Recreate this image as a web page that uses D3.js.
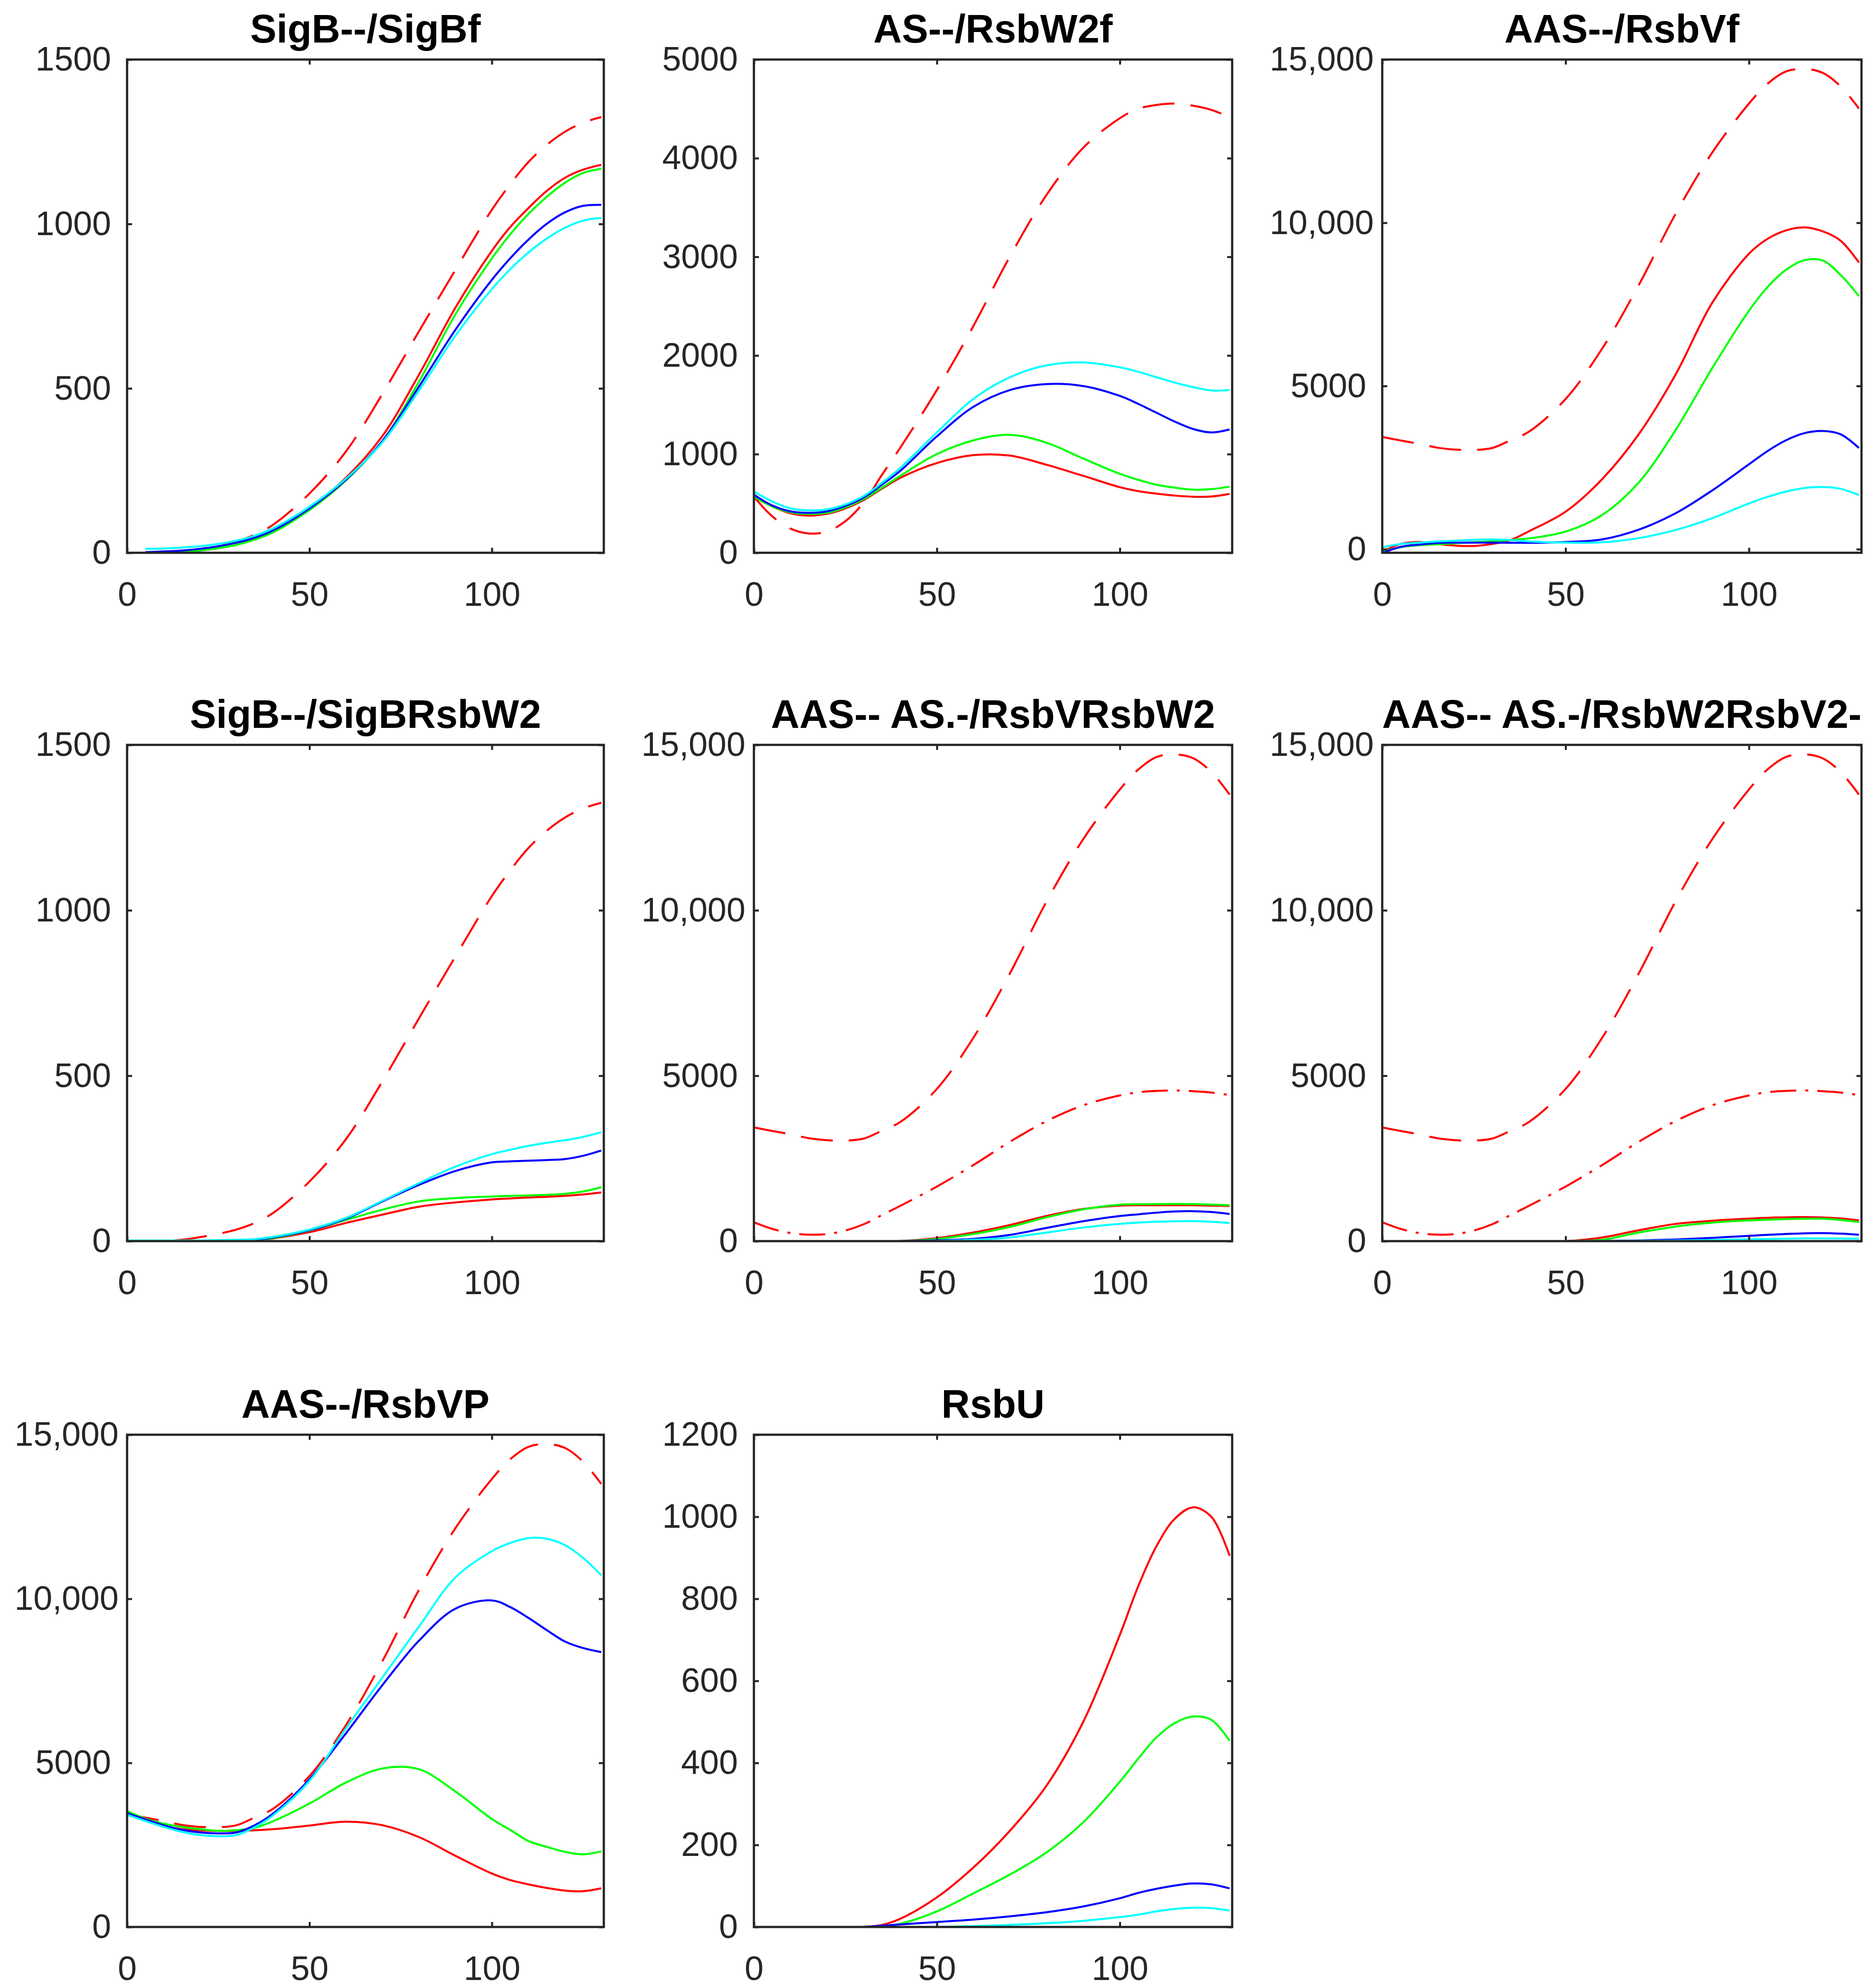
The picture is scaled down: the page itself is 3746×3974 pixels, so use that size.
<!DOCTYPE html>
<html>
<head>
<meta charset="utf-8">
<script src="https://cdn.jsdelivr.net/npm/d3@7"></script>
<style>
body { margin: 0; background: #fff; }
svg { display: block; }
</style>
</head>
<body>
<svg id="fig" width="3746" height="3974"></svg>
<script>
'use strict';

// time points shared by every curve
var time = [0, 5, 10, 15, 20, 25, 30, 35, 40, 50, 60, 70, 80, 90, 100, 105, 110, 115, 120, 125, 130];

// totals (dashed / dash-dot red)
var sigBTotal = [0, 0, 1, 4, 12, 22, 35, 55, 85, 180, 308, 483, 673, 860, 1043, 1120, 1188, 1240, 1280, 1308, 1325];
var asTotal = [568, 370, 245, 195, 215, 320, 510, 790, 1065, 1650, 2300, 3006, 3629, 4106, 4405, 4500, 4540, 4554, 4532, 4490, 4415];
var rsbVTotal = [3437, 3330, 3230, 3110, 3050, 3040, 3100, 3339, 3600, 4600, 6150, 8100, 10270, 12150, 13650, 14250, 14630, 14713, 14600, 14180, 13500];

// SigB--/SigBf
var sigBfRed = [null, 0, 1, 3, 7, 14, 25, 42, 65, 135, 228, 355, 541, 745, 918, 990, 1048, 1100, 1140, 1165, 1180];
var sigBfGreen = [null, 0, 1, 3, 7, 14, 24, 40, 62, 130, 220, 340, 520, 725, 895, 968, 1030, 1082, 1125, 1155, 1168];
var sigBfBlue = [null, 2, 4, 7, 12, 20, 31, 46, 68, 135, 222, 340, 505, 678, 830, 895, 952, 1000, 1035, 1055, 1058];
var sigBfCyan = [null, 12, 13, 16, 20, 27, 37, 52, 74, 140, 225, 336, 493, 660, 802, 862, 913, 955, 988, 1010, 1018];

// AS--/RsbW2f
var asW2fRed = [568, 470, 400, 377, 395, 450, 535, 650, 760, 910, 990, 985, 892, 780, 665, 625, 600, 580, 568, 570, 597];
var asW2fGreen = [568, 470, 410, 393, 405, 460, 545, 660, 780, 1000, 1140, 1196, 1115, 955, 800, 740, 690, 660, 640, 645, 670];
var asW2fBlue = [588, 480, 420, 405, 420, 475, 560, 690, 830, 1180, 1480, 1650, 1710, 1690, 1590, 1510, 1420, 1330, 1255, 1220, 1250];
var asW2fCyan = [620, 520, 450, 430, 440, 490, 575, 710, 860, 1220, 1560, 1780, 1900, 1930, 1880, 1835, 1780, 1725, 1680, 1645, 1650];

// AAS--/RsbVf
var rsbVfRed = [-80, 159, 220, 159, 110, 98, 160, 280, 550, 1150, 2150, 3530, 5350, 7550, 9050, 9500, 9760, 9857, 9740, 9450, 8780];
var rsbVfGreen = [-80, 60, 120, 150, 180, 210, 240, 280, 330, 540, 1050, 2050, 3650, 5550, 7300, 8020, 8550, 8850, 8850, 8400, 7750];
var rsbVfBlue = [-120, 70, 140, 190, 200, 200, 200, 198, 195, 220, 300, 600, 1100, 1800, 2600, 3000, 3330, 3550, 3620, 3520, 3100];
var rsbVfCyan = [60, 159, 200, 240, 260, 290, 300, 280, 240, 200, 210, 340, 590, 950, 1400, 1600, 1760, 1870, 1905, 1850, 1660];

// SigB--/SigBRsbW2
var sigBW2Red = [0, 0, 0, 0, 0, 0, 1, 3, 8, 27, 55, 80, 104, 117, 126, 129, 132, 134, 137, 141, 147];
var sigBW2Green = [0, 0, 0, 0, 0, 0, 1, 3, 9, 32, 64, 95, 120, 130, 135, 137, 138, 140, 143, 150, 163];
var sigBW2Blue = [0, 0, 0, 0, 0, 1, 2, 4, 11, 33, 68, 120, 170, 212, 238, 241, 243, 245, 248, 258, 274];
var sigBW2Cyan = [2, 2, 2, 2, 2, 3, 4, 6, 13, 35, 70, 122, 175, 225, 263, 276, 288, 297, 305, 315, 329];

// AAS-- AS.-/RsbVRsbW2
var vW2Red = [null, 0, 0, 0, 0, 0, 0, 1, 3, 90, 260, 490, 760, 970, 1075, 1085, 1086, 1086, 1086, 1075, 1062];
var vW2Green = [null, 0, 0, 0, 0, 0, 0, 1, 3, 65, 215, 430, 720, 960, 1100, 1115, 1120, 1122, 1120, 1105, 1086];
var vW2Blue = [null, 0, 0, 0, 0, 0, 0, 0, 1, 25, 70, 190, 400, 600, 760, 810, 860, 895, 905, 880, 821];
var vW2Cyan = [null, 0, 0, 0, 0, 0, 0, 0, 0, 8, 40, 110, 260, 410, 520, 560, 585, 600, 603, 585, 543];

// AAS-- AS.-/RsbW2RsbV2-
var w2V2Red = [0, 0, 0, 0, 0, 0, 0, 0, 0, 0, 110, 330, 520, 615, 680, 705, 720, 724, 715, 685, 628];
var w2V2Green = [0, 0, 0, 0, 0, 0, 0, 0, 0, 0, 40, 260, 440, 560, 625, 645, 665, 676, 675, 640, 579];
var w2V2Blue = [0, 0, 0, 0, 0, 0, 0, 0, 0, 0, 5, 20, 50, 100, 160, 190, 215, 235, 241, 225, 193];
var w2V2Cyan = [0, 0, 0, 0, 0, 0, 0, 0, 0, 0, 2, 8, 18, 35, 55, 65, 75, 82, 84, 80, 72];

// AAS--/RsbVP
var rsbVPRed = [3506, 3250, 3080, 2980, 2945, 2925, 2930, 2945, 2980, 3090, 3210, 3100, 2740, 2170, 1630, 1430, 1300, 1190, 1110, 1090, 1177];
var rsbVPGreen = [3531, 3300, 3150, 3050, 2980, 2930, 2950, 3020, 3220, 3760, 4400, 4830, 4807, 4130, 3290, 2960, 2620, 2445, 2290, 2215, 2304];
var rsbVPBlue = [3469, 3280, 3100, 2960, 2880, 2850, 2880, 3100, 3450, 4500, 5900, 7370, 8720, 9700, 9950, 9750, 9420, 9050, 8700, 8500, 8376];
var rsbVPCyan = [3420, 3230, 3050, 2900, 2800, 2763, 2800, 3040, 3400, 4450, 6050, 7600, 9150, 10650, 11450, 11700, 11850, 11830, 11640, 11250, 10717];

// RsbU
var rsbURed = [null, null, null, null, null, null, 0, 5, 20, 72, 145, 235, 345, 500, 712, 830, 928, 995, 1023, 1000, 905];
var rsbUGreen = [null, null, null, null, null, null, 0, 2, 8, 38, 82, 128, 182, 255, 354, 410, 462, 497, 513, 505, 454];
var rsbUBlue = [null, null, null, null, null, null, 0, 3, 6, 12, 18, 26, 36, 50, 70, 83, 93, 101, 106, 104, 94];
var rsbUCyan = [null, null, null, null, null, null, -3, -2, -1, 0, 2, 5, 9, 15, 24, 30, 38, 44, 47, 46, 40];

var titles = ['SigB--/SigBf', 'AS--/RsbW2f', 'AAS--/RsbVf', 'SigB--/SigBRsbW2',
    'AAS-- AS.-/RsbVRsbW2', 'AAS-- AS.-/RsbW2RsbV2-', 'AAS--/RsbVP', 'RsbU'];
var yMin = [0, 0, -110, 0, 0, 0, 0, 0];
var yMax = [1500, 5000, 15000, 1500, 15000, 15000, 15000, 1200];
var yStep = [500, 1000, 5000, 500, 5000, 5000, 5000, 200];
var xTicks = [0, 50, 100];
var xMax = 130.7;

var RED = '#ff0000', GREEN = '#00ff00', BLUE = '#0000ff', CYAN = '#00ffff';

function solid (r, g, b, c) {
    return [
        { values: r, color: RED },
        { values: g, color: GREEN },
        { values: b, color: BLUE },
        { values: c, color: CYAN }
    ];
}

var panelSeries = [
    [{ values: sigBTotal, color: RED, dash: 'dash' }].concat(solid(sigBfRed, sigBfGreen, sigBfBlue, sigBfCyan)),
    [{ values: asTotal, color: RED, dash: 'dash' }].concat(solid(asW2fRed, asW2fGreen, asW2fBlue, asW2fCyan)),
    [{ values: rsbVTotal, color: RED, dash: 'dash' }].concat(solid(rsbVfRed, rsbVfGreen, rsbVfBlue, rsbVfCyan)),
    [{ values: sigBTotal, color: RED, dash: 'dash' }].concat(solid(sigBW2Red, sigBW2Green, sigBW2Blue, sigBW2Cyan)),
    [{ values: rsbVTotal, color: RED, dash: 'dash' }, { values: asTotal, color: RED, dash: 'dashdot' }]
        .concat(solid(vW2Red, vW2Green, vW2Blue, vW2Cyan)),
    [{ values: rsbVTotal, color: RED, dash: 'dash' }, { values: asTotal, color: RED, dash: 'dashdot' }]
        .concat(solid(w2V2Red, w2V2Green, w2V2Blue, w2V2Cyan)),
    [{ values: rsbVTotal, color: RED, dash: 'dash' }].concat(solid(rsbVPRed, rsbVPGreen, rsbVPBlue, rsbVPCyan)),
    solid(rsbURed, rsbUGreen, rsbUBlue, rsbUCyan)
];

// subplot grid
var colLeft = [254, 1507, 2763],
    colWidth = [953, 956, 958],
    rowTop = [119, 1489, 2868],
    rowHeight = [986, 992, 984];

var AXIS = '#262626',
    FONT = '"Liberation Sans", Arial, Helvetica, sans-serif';

var dashes = { dash: '64,32', dashdot: '52,18,6,18' };

function formatY (v) {
    return v >= 10000 ? d3.format(',')(v) : d3.format('d')(v);
}

function drawPanel (svg, i) {
    var col = i % 3,
        row = Math.floor(i / 3),
        w = colWidth[col],
        h = rowHeight[row];

    var x = d3.scaleLinear().domain([0, xMax]).range([0, w]);
    var y = d3.scaleLinear().domain([yMin[i], yMax[i]]).range([h, 0]);
    var yTicks = d3.range(0, yMax[i] + 1, yStep[i]);

    var g = svg.append('g')
        .attr('transform', 'translate(' + colLeft[col] + ',' + rowTop[row] + ')');

    g.append('clipPath')
        .attr('id', 'clip' + i)
        .append('rect')
            .attr('width', w)
            .attr('height', h);

    var line = d3.line()
        .defined(function (d) { return d[1] !== null; })
        .x(function (d) { return x(d[0]); })
        .y(function (d) { return y(d[1]); })
        .curve(d3.curveCatmullRom.alpha(0.5));

    g.append('g')
        .attr('clip-path', 'url(#clip' + i + ')')
        .selectAll('path')
            .data(panelSeries[i])
        .enter().append('path')
            .attr('fill', 'none')
            .attr('stroke', function (d) { return d.color; })
            .attr('stroke-width', 4)
            .attr('stroke-dasharray', function (d) { return d.dash ? dashes[d.dash] : null; })
            .attr('d', function (d) {
                return line(time.map(function (t, k) { return [t, d.values[k]]; }));
            });

    // axes: inward ticks on all four sides
    var left = g.append('g')
        .call(d3.axisLeft(y).tickValues(yTicks).tickSize(-10).tickPadding(32).tickFormat(formatY));
    left.selectAll('text')
        .attr('x', function (d) { return d >= 10000 ? -17 : -32; });

    g.append('g')
        .attr('transform', 'translate(' + w + ',0)')
        .call(d3.axisRight(y).tickValues(yTicks).tickSize(-10).tickFormat(''));

    g.append('g')
        .attr('transform', 'translate(0,' + h + ')')
        .call(d3.axisBottom(x).tickValues(xTicks).tickSize(-10).tickPadding(58).tickFormat(d3.format('d')));

    g.append('g')
        .call(d3.axisTop(x).tickValues(xTicks).tickSize(-10).tickFormat(''));

    g.selectAll('.domain').remove();
    g.selectAll('.tick line')
        .attr('stroke', AXIS)
        .attr('stroke-width', 4);
    g.selectAll('.tick text')
        .attr('fill', AXIS)
        .style('font-family', FONT)
        .style('font-size', '68px');

    g.append('rect')
        .attr('width', w)
        .attr('height', h)
        .attr('fill', 'none')
        .attr('stroke', AXIS)
        .attr('stroke-width', 4.5);

    g.append('text')
        .attr('x', w / 2)
        .attr('y', -34)
        .attr('text-anchor', 'middle')
        .style('font-family', FONT)
        .style('font-size', '79px')
        .style('font-weight', 'bold')
        .attr('fill', '#000')
        .text(titles[i]);
}

var svg = d3.select('#fig');
svg.append('rect')
    .attr('width', 3746)
    .attr('height', 3974)
    .attr('fill', '#fff');

titles.forEach(function (t, i) {
    drawPanel(svg, i);
});
</script>
</body>
</html>
